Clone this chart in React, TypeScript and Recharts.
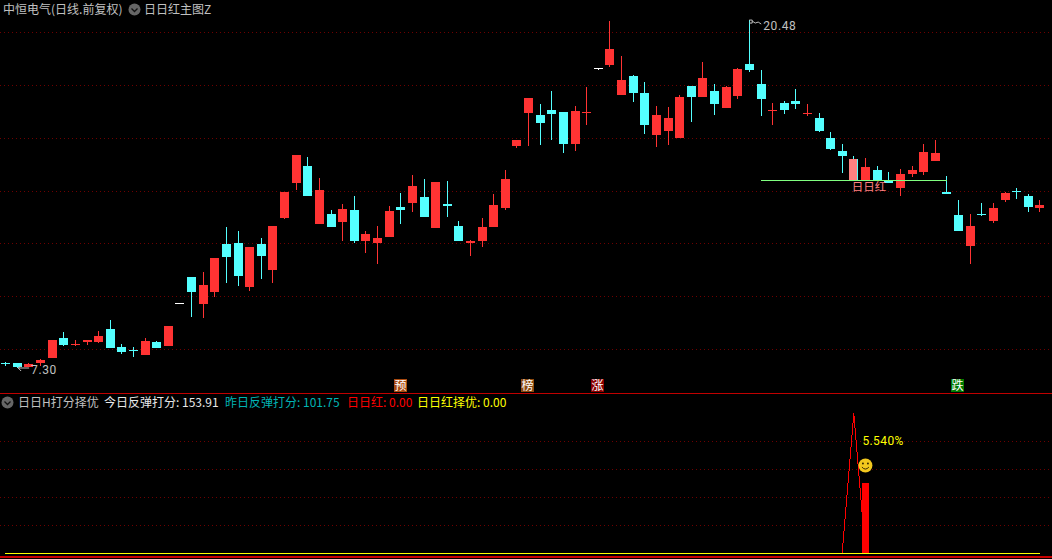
import React from "react";
import {
  Bar,
  CartesianGrid,
  ComposedChart,
  Line,
  ReferenceDot,
  ReferenceLine,
  XAxis,
  YAxis,
} from "recharts";

const opens = [
  7.49, 7.49, 7.34, 7.49, 7.68, 8.44, 8.17, 8.28, 8.28, 8.78,
  8.10, 7.98, 7.79, 8.28, 8.13, 9.76, 10.75, 9.72, 10.18, 12.00,
  12.04, 10.37, 12.00, 11.01, 12.98, 14.31, 14.95, 12.75, 13.13, 12.83,
  13.29, 12.11, 12.04, 12.26, 13.40, 13.55, 13.78, 12.60, 13.51, 12.68,
  12.04, 12.11, 12.64, 13.36, 15.71, 16.96, 16.88, 17.07, 17.00, 15.79,
  16.96, 18.66, 18.78, 17.64, 18.36, 17.72, 16.13, 16.28, 16.01, 17.98,
  17.57, 17.79, 17.15, 17.60, 18.82, 18.06, 17.04, 17.34, 17.41, 16.92,
  16.77, 16.01, 15.52, 15.22, 14.42, 14.80, 14.38, 14.12, 14.65, 14.72,
  15.14, 13.97, 13.10, 11.92, 13.13, 12.87, 13.66, 14.00, 13.82, 13.36,
];
const closes = [
  7.45, 7.34, 7.45, 7.60, 8.36, 8.17, 8.21, 8.36, 8.51, 8.06,
  7.91, 7.94, 8.32, 8.06, 8.89, 9.76, 10.18, 10.44, 11.47, 11.50,
  10.79, 11.88, 11.54, 12.68, 13.97, 15.37, 13.82, 14.04, 12.64, 13.32,
  12.11, 12.38, 12.22, 13.25, 13.29, 14.19, 13.02, 14.35, 13.44, 12.11,
  12.11, 12.64, 13.47, 14.46, 15.94, 17.53, 16.58, 16.92, 15.79, 17.04,
  17.00, 18.66, 19.38, 18.21, 17.72, 16.51, 16.88, 16.77, 17.57, 17.57,
  18.29, 17.30, 17.94, 18.63, 18.59, 17.49, 17.07, 17.07, 17.30, 16.96,
  16.28, 15.60, 15.33, 14.42, 14.91, 14.42, 14.31, 14.65, 14.80, 15.48,
  15.44, 13.89, 12.49, 12.68, 13.10, 13.36, 13.93, 13.97, 13.40, 13.47,
];
const highs = [
  7.53, 7.49, 7.49, 7.64, 8.36, 8.66, 8.36, 8.36, 8.70, 9.12,
  8.21, 8.10, 8.44, 8.32, 8.89, 9.76, 10.75, 10.94, 11.47, 12.64,
  12.49, 11.88, 12.22, 12.68, 13.97, 15.37, 15.29, 14.50, 13.29, 13.51,
  13.82, 12.49, 12.68, 13.44, 13.93, 14.61, 14.46, 14.35, 14.38, 12.87,
  12.15, 12.98, 13.89, 14.80, 15.94, 17.53, 17.30, 17.79, 17.00, 17.22,
  17.94, 18.66, 20.44, 19.12, 18.40, 18.13, 17.22, 17.19, 17.64, 17.98,
  18.89, 18.06, 17.98, 18.66, 20.48, 18.59, 17.34, 17.41, 17.87, 17.30,
  16.96, 16.24, 15.79, 15.33, 15.26, 14.95, 14.72, 14.84, 14.95, 15.79,
  15.94, 14.57, 13.66, 13.13, 13.55, 13.55, 13.97, 14.12, 13.89, 13.66,
];
const lows = [
  7.38, 7.30, 7.34, 7.38, 7.68, 8.13, 8.13, 8.17, 8.25, 8.06,
  7.83, 7.72, 7.79, 8.06, 8.13, 9.76, 9.23, 9.19, 9.99, 10.52,
  10.41, 10.22, 10.67, 10.52, 12.94, 14.04, 13.82, 12.75, 12.64, 12.11,
  12.04, 11.66, 11.24, 12.26, 12.75, 13.21, 13.02, 12.60, 13.02, 12.11,
  11.54, 11.88, 12.64, 13.29, 15.63, 15.71, 15.75, 15.94, 15.44, 15.52,
  16.51, 18.59, 18.70, 17.64, 17.38, 16.16, 15.67, 15.75, 16.01, 16.62,
  17.57, 16.88, 17.15, 17.49, 18.51, 16.85, 16.51, 16.92, 17.11, 16.85,
  16.24, 15.56, 14.69, 14.42, 14.42, 14.42, 14.31, 13.82, 14.54, 14.61,
  15.14, 13.89, 12.49, 11.24, 13.06, 12.79, 13.59, 13.70, 13.21, 13.21,
];

// 日日红 signal candle and the flat line that follows it
const signalDays = [73];
const signalLevel = 14.41;
const signalLineStart = 65;
const signalLineEnd = 81;
const highDay = 64;
const lowDay = 1;

const priceTicks = [8, 10, 12, 14, 16, 18, 20];
const scoreTicks = [30, 60, 90, 120];

const tags = [
  { day: 34, text: "预", color: "#a84a10" },
  { day: 45, text: "榜", color: "#8b4a10" },
  { day: 51, text: "涨", color: "#8b0000" },
  { day: 82, text: "跌", color: "#007a00" },
];

const rebound = [
  0, 0, 0, 0, 0, 0, 0, 0, 0, 0, 0, 0, 0, 0, 0, 0, 0, 0, 0, 0, 0, 0, 0, 0, 0, 0, 0, 0, 0, 0,
  0, 0, 0, 0, 0, 0, 0, 0, 0, 0, 0, 0, 0, 0, 0, 0, 0, 0, 0, 0, 0, 0, 0, 0, 0, 0, 0, 0, 0, 0,
  0, 0, 0, 0, 0, 0, 0, 0, 0, 0, 0, 0, 0, 150, 0, 0, 0, 0, 0, 0, 0, 0, 0, 0, 0, 0, 0, 0, 0, 0,
];
const selected = [
  0, 0, 0, 0, 0, 0, 0, 0, 0, 0, 0, 0, 0, 0, 0, 0, 0, 0, 0, 0, 0, 0, 0, 0, 0, 0, 0, 0, 0, 0,
  0, 0, 0, 0, 0, 0, 0, 0, 0, 0, 0, 0, 0, 0, 0, 0, 0, 0, 0, 0, 0, 0, 0, 0, 0, 0, 0, 0, 0, 0,
  0, 0, 0, 0, 0, 0, 0, 0, 0, 0, 0, 0, 0, 0, 0, 0, 0, 0, 0, 0, 0, 0, 0, 0, 0, 0, 0, 0, 0, 0,
];
const pickDay = 74;
const pickValue = 75;
const pickGain = "5.540%";

const candles = opens.map((open, i) => ({
  day: i,
  open,
  close: closes[i],
  high: highs[i],
  low: lows[i],
  range: [lows[i], highs[i]],
  signal: signalDays.includes(i),
}));

const scores = rebound.map((v, i) => ({
  day: i,
  rebound: v,
  selected: selected[i],
  pick: i === pickDay ? pickValue : null,
}));

const RED = "#ff3333";
const CYAN = "#54ffff";
const GRAY = "#c0c0c0";
const GRID = "#6e0000";
const CJK = '"Noto Sans CJK SC", sans-serif';
const xDomain = [-0.473, 90.057];

function Candle(props: any) {
  const { x, y, width, height, payload } = props;
  const { open, close, high, low, signal } = payload;
  const perUnit = high > low ? height / (high - low) : 0;
  const color = open === close ? "#ffffff" : close > open ? RED : CYAN;
  const cx = Math.round(x + width / 2);
  const top = Math.round(y + (high - Math.max(open, close)) * perUnit);
  const bottom = Math.round(y + (high - Math.min(open, close)) * perUnit);
  return (
    <g shapeRendering="crispEdges">
      <rect x={cx} y={Math.round(y)} width={1} height={Math.max(Math.round(height), 1)} fill={color} />
      <rect x={cx - 4} y={top} width={9} height={Math.max(bottom - top, 1)} fill={signal ? "#ff8080" : color} />
      {signal && <rect x={cx + 4} y={top} width={1} height={bottom - top} fill={CYAN} />}
    </g>
  );
}

function HighMark({ cx, cy, text }: any) {
  return (
    <g>
      <path d={`M${cx} ${cy}h3v3h-3M${cx + 3} ${cy + 1}l3 2l3 -1l3 2`} fill="none" stroke={GRAY} />
      <text x={cx + 14} y={cy + 10} fill={GRAY} fontSize={12} fontFamily="Roboto, sans-serif" letterSpacing={0.6}>
        {text}
      </text>
    </g>
  );
}

function LowMark({ cx, cy, text }: any) {
  return (
    <g>
      <path d={`M${cx + 1} ${cy}h11M${cx + 1} ${cy}l3 -2M${cx + 1} ${cy}l3 3`} fill="none" stroke={GRAY} />
      <text x={cx + 14} y={cy + 6} fill={GRAY} fontSize={12} fontFamily="Roboto, sans-serif" letterSpacing={0.6}>
        {text}
      </text>
    </g>
  );
}

function Tag({ cx, cy, text, color }: any) {
  return (
    <g>
      <rect x={Math.round(cx) - 7} y={cy - 6.5} width={13} height={13} fill={color} shapeRendering="crispEdges" />
      <text x={Math.round(cx) - 0.5} y={cy + 4.5} textAnchor="middle" fill="#ffffff" fontSize={12} fontFamily={CJK}>
        {text}
      </text>
    </g>
  );
}

function SignalName({ cx, cy }: any) {
  return (
    <text x={cx - 2} y={cy + 11} fill="#ff8080" fontSize={11.5} fontFamily={CJK}>
      日日红
    </text>
  );
}

function Smile({ cx, cy }: any) {
  return (
    <g>
      <circle cx={cx} cy={cy} r={7} fill="#f2c81e" />
      <circle cx={cx - 2.5} cy={cy - 2} r={1} fill="#3a2a00" />
      <circle cx={cx + 2.5} cy={cy - 2} r={1} fill="#3a2a00" />
      <path d={`M${cx - 3.5} ${cy + 1.5}q3.5 4 7 0`} fill="none" stroke="#3a2a00" />
    </g>
  );
}

function GainText({ cx, cy, text }: any) {
  return (
    <text x={cx - 3} y={cy + 4} fill="#ffff00" fontSize={12} fontFamily="Roboto, sans-serif" letterSpacing={0.4}>
      {text}
    </text>
  );
}

function Caption({ left, top, color, children }: any) {
  return (
    <span
      style={{
        position: "absolute",
        left,
        top,
        color,
        fontFamily: CJK,
        fontSize: 12,
        lineHeight: "16px",
        whiteSpace: "nowrap",
      }}
    >
      {children}
    </span>
  );
}

function Chevron({ left, top }: any) {
  return (
    <svg style={{ position: "absolute", left, top }} width={13} height={13}>
      <circle cx={6.5} cy={6.5} r={6} fill="#666666" />
      <path d="M3.5 5.5l3 3l3 -3" fill="none" stroke="#111111" strokeWidth={1.3} />
    </svg>
  );
}

export default function App() {
  return (
    <div
      style={{
        position: "fixed",
        left: 0,
        top: 0,
        width: 1052,
        height: 559,
        background: "#000000",
        overflow: "hidden",
      }}
    >
      <div style={{ position: "absolute", left: 0, top: 0 }}>
        <ComposedChart width={1052} height={393} data={candles} margin={{ top: 0, right: 0, bottom: 0, left: 0 }}>
          <CartesianGrid
            vertical={false}
            horizontalValues={priceTicks}
            stroke={GRID}
            strokeDasharray="1 3"
            shapeRendering="crispEdges"
          />
          <XAxis dataKey="day" type="number" domain={xDomain} allowDataOverflow hide />
          <YAxis type="number" domain={[6.353, 21.24]} ticks={priceTicks} allowDataOverflow hide />
          <Bar dataKey="range" barSize={9} shape={Candle} isAnimationActive={false} />
          <ReferenceLine
            segment={[
              { x: signalLineStart, y: signalLevel },
              { x: signalLineEnd, y: signalLevel },
            ]}
            stroke="#80ff80"
            shapeRendering="crispEdges"
          />
          <ReferenceDot x={signalDays[0]} y={signalLevel} shape={<SignalName />} />
          <ReferenceDot x={highDay} y={highs[highDay]} shape={<HighMark text={highs[highDay].toFixed(2)} />} />
          <ReferenceDot x={lowDay} y={lows[lowDay]} shape={<LowMark text={lows[lowDay].toFixed(2)} />} />
          {tags.map((t) => (
            <ReferenceDot key={t.day} x={t.day} y={6.64} shape={<Tag text={t.text} color={t.color} />} />
          ))}
        </ComposedChart>
      </div>

      <div style={{ position: "absolute", left: 0, top: 393 }}>
        <ComposedChart width={1052} height={166} data={scores} margin={{ top: 0, right: 0, bottom: 0, left: 0 }}>
          <CartesianGrid
            vertical={false}
            horizontalValues={scoreTicks}
            stroke={GRID}
            strokeDasharray="1 3"
            shapeRendering="crispEdges"
          />
          <XAxis dataKey="day" type="number" domain={xDomain} allowDataOverflow hide />
          <YAxis type="number" domain={[-6.1, 171.75]} ticks={scoreTicks} allowDataOverflow hide />
          <Line
            dataKey="rebound"
            type="linear"
            stroke="#ff0000"
            strokeWidth={1}
            dot={false}
            shapeRendering="crispEdges"
            isAnimationActive={false}
          />
          <Bar dataKey="pick" barSize={7} fill="#ff0000" shapeRendering="crispEdges" isAnimationActive={false} />
          <Line
            dataKey="selected"
            type="linear"
            stroke="#ffff00"
            strokeWidth={1}
            dot={false}
            shapeRendering="crispEdges"
            isAnimationActive={false}
          />
          <ReferenceDot x={pickDay} y={94} shape={<Smile />} />
          <ReferenceDot x={pickDay} y={120} shape={<GainText text={pickGain} />} />
        </ComposedChart>
      </div>

      <div style={{ position: "absolute", left: 0, top: 393, width: 1052, height: 1, background: "#c00000" }} />
      <div style={{ position: "absolute", left: 0, top: 555.5, width: 1052, height: 2, background: "#c80000" }} />

      <Caption left={3} top={1} color={GRAY}>中恒电气(日线.前复权)</Caption>
      <Chevron left={128} top={3} />
      <Caption left={144} top={1} color={GRAY}>日日红主图Z</Caption>

      <Chevron left={1} top={396} />
      <Caption left={18} top={394} color={GRAY}>日日H打分择优</Caption>
      <Caption left={104} top={394} color="#e8e8e8">今日反弹打分: 153.91</Caption>
      <Caption left={225} top={394} color="#00b4b4">昨日反弹打分: 101.75</Caption>
      <Caption left={347} top={394} color="#ff0000">日日红: 0.00</Caption>
      <Caption left={417} top={394} color="#ffff00">日日红择优: 0.00</Caption>
    </div>
  );
}
